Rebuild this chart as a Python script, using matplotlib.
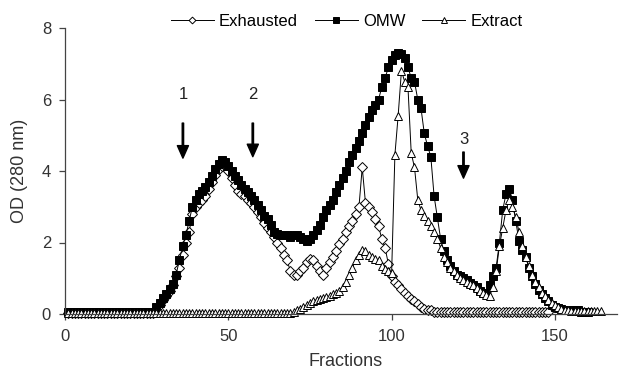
import matplotlib
matplotlib.use("Agg")
import matplotlib.pyplot as plt

plt.rcParams['font.family'] = ['Liberation Sans', 'DejaVu Sans']

# OD at 280 nm per fraction
exhausted = [
    0.02, 0.02, 0.02, 0.02, 0.02, 0.02, 0.02, 0.02, 0.02, 0.02,
    0.02, 0.02, 0.02, 0.02, 0.02, 0.02, 0.02, 0.02, 0.02, 0.02,
    0.02, 0.02, 0.02, 0.02, 0.02, 0.02, 0.02, 0.15, 0.25, 0.40,
    0.50, 0.65, 0.80, 1.05, 1.30, 1.65, 2.00, 2.30, 2.80, 3.00,
    3.10, 3.20, 3.30, 3.50, 3.70, 3.90, 4.05, 4.15, 4.15, 4.00,
    3.80, 3.60, 3.45, 3.35, 3.30, 3.20, 3.10, 3.00, 2.85, 2.70,
    2.55, 2.40, 2.30, 2.15, 2.00, 1.85, 1.65, 1.50, 1.20, 1.10,
    1.10, 1.20, 1.30, 1.45, 1.55, 1.50, 1.35, 1.20, 1.10, 1.30,
    1.45, 1.60, 1.75, 1.95, 2.10, 2.30, 2.45, 2.60, 2.80, 3.00,
    4.10, 3.10, 3.00, 2.85, 2.65, 2.45, 2.10, 1.85, 1.40, 1.05,
    0.90, 0.80, 0.70, 0.60, 0.50, 0.42, 0.35, 0.28, 0.20, 0.15,
    0.12, 0.10, 0.05, 0.05, 0.05, 0.05, 0.05, 0.05, 0.05, 0.05,
    0.05, 0.05, 0.05, 0.05, 0.05, 0.05, 0.05, 0.05, 0.05, 0.05,
    0.05, 0.05, 0.05, 0.05, 0.05, 0.05, 0.05, 0.05, 0.05, 0.05,
    0.05, 0.05, 0.05, 0.05, 0.05, 0.05, 0.05, 0.05,
]

omw = [
    0.05, 0.05, 0.05, 0.05, 0.05, 0.05, 0.05, 0.05, 0.05, 0.05,
    0.05, 0.05, 0.05, 0.05, 0.05, 0.05, 0.05, 0.05, 0.05, 0.05,
    0.05, 0.05, 0.05, 0.05, 0.05, 0.05, 0.05, 0.20, 0.30, 0.45,
    0.55, 0.70, 0.85, 1.10, 1.50, 1.90, 2.20, 2.60, 3.00, 3.20,
    3.35, 3.45, 3.55, 3.70, 3.85, 4.05, 4.20, 4.30, 4.25, 4.15,
    4.00, 3.85, 3.75, 3.60, 3.50, 3.40, 3.30, 3.20, 3.05, 2.90,
    2.75, 2.65, 2.50, 2.30, 2.25, 2.20, 2.20, 2.20, 2.15, 2.20,
    2.20, 2.15, 2.10, 2.05, 2.10, 2.20, 2.35, 2.50, 2.70, 2.90,
    3.05, 3.20, 3.40, 3.60, 3.80, 4.00, 4.25, 4.45, 4.65, 4.85,
    5.05, 5.30, 5.50, 5.70, 5.85, 6.00, 6.35, 6.60, 6.90, 7.10,
    7.25, 7.30, 7.28, 7.15, 6.90, 6.60, 6.50, 6.00, 5.75, 5.05,
    4.70, 4.40, 3.30, 2.70, 2.10, 1.75, 1.50, 1.35, 1.20, 1.10,
    1.05, 1.00, 0.95, 0.88, 0.82, 0.75, 0.65, 0.58, 0.60, 0.80,
    1.05, 1.30, 2.00, 2.90, 3.35, 3.50, 3.20, 2.60, 2.05, 1.80,
    1.60, 1.30, 1.05, 0.85, 0.67, 0.55, 0.45, 0.35, 0.25, 0.20,
    0.17, 0.15, 0.12, 0.10, 0.10, 0.10, 0.10, 0.05, 0.05, 0.05,
]

extract = [
    0.02, 0.02, 0.02, 0.02, 0.02, 0.02, 0.02, 0.02, 0.02, 0.02,
    0.02, 0.02, 0.02, 0.02, 0.02, 0.02, 0.02, 0.02, 0.02, 0.02,
    0.02, 0.02, 0.02, 0.02, 0.02, 0.02, 0.02, 0.02, 0.02, 0.02,
    0.02, 0.02, 0.02, 0.02, 0.02, 0.02, 0.02, 0.02, 0.02, 0.02,
    0.02, 0.02, 0.02, 0.02, 0.02, 0.02, 0.02, 0.02, 0.02, 0.02,
    0.02, 0.02, 0.02, 0.02, 0.02, 0.02, 0.02, 0.02, 0.02, 0.02,
    0.02, 0.02, 0.02, 0.02, 0.02, 0.02, 0.02, 0.02, 0.02, 0.05,
    0.10, 0.15, 0.20, 0.25, 0.30, 0.35, 0.40, 0.42, 0.45, 0.48,
    0.50, 0.55, 0.58, 0.65, 0.75, 0.90, 1.10, 1.30, 1.50, 1.65,
    1.80, 1.75, 1.65, 1.60, 1.55, 1.50, 1.35, 1.25, 1.20, 1.15,
    4.45, 5.55, 6.80, 6.50, 6.35, 4.50, 4.10, 3.20, 2.90, 2.75,
    2.60, 2.45, 2.30, 2.10, 1.85, 1.60, 1.45, 1.30, 1.20, 1.10,
    1.00, 0.95, 0.90, 0.85, 0.80, 0.72, 0.65, 0.58, 0.52, 0.50,
    0.75, 1.20, 1.90, 2.40, 2.90, 3.20, 3.00, 2.70, 2.30, 1.90,
    1.60, 1.35, 1.10, 0.90, 0.75, 0.60, 0.50, 0.40, 0.30, 0.25,
    0.20, 0.15, 0.12, 0.10, 0.08, 0.08, 0.08, 0.08, 0.08, 0.08,
    0.08, 0.08, 0.08, 0.08,
]

# Peak markers: label, fraction, arrow top, arrow tip, label height
peak_labels = ["1", "2", "3"]
peak_x = [36.1, 57.5, 122.0]
arrow_top = [5.34, 5.34, 4.53]
arrow_tip = [4.36, 4.40, 3.80]
label_y = [6.15, 6.15, 4.87]

fig = plt.figure(figsize=(6.19, 3.71), dpi=100)
ax = fig.add_axes([65 / 619, 57 / 371, 552 / 619, 286 / 371])

ax.plot(range(1, len(exhausted) + 1), exhausted, color="black", lw=0.7,
        marker="D", ms=4.6, mfc="white", mec="black", mew=0.7,
        label="Exhausted", clip_on=False)
ax.plot(range(1, len(omw) + 1), omw, color="black", lw=0.7,
        marker="s", ms=5.5, mfc="black", mec="black", mew=0.7,
        label="OMW", clip_on=False)
ax.plot(range(1, len(extract) + 1), extract, color="black", lw=0.7,
        marker="^", ms=6, mfc="white", mec="black", mew=0.7,
        label="Extract", clip_on=False)

for lab, x, top, tip, ly in zip(peak_labels, peak_x, arrow_top, arrow_tip, label_y):
    ax.annotate("", xy=(x, tip), xytext=(x, top),
                arrowprops=dict(facecolor="black", edgecolor="black",
                                width=1.0, headwidth=8, headlength=9))
    ax.text(x, ly, lab, ha="center", va="center", fontsize=12, color="#222222")

ax.set_xlim(0, 169)
ax.set_ylim(0, 8)
ax.set_xticks([0, 50, 100, 150])
ax.set_yticks([0, 2, 4, 6, 8])

for side in ("top", "right"):
    ax.spines[side].set_visible(False)
for side in ("left", "bottom"):
    ax.spines[side].set_color("#444444")
    ax.spines[side].set_linewidth(0.9)

ax.tick_params(axis="both", direction="out", length=4, width=0.9,
               color="#444444", labelsize=12, labelcolor="#333333")
ax.tick_params(axis="x", pad=7)
ax.tick_params(axis="y", pad=6)

ax.set_xlabel("Fractions", fontsize=13, color="#333333", va="center")
ax.xaxis.set_label_coords((346 - 65) / 552, -(361 - 314) / 286)
ax.set_ylabel("OD (280 nm)", fontsize=13, color="#333333", va="center")
ax.yaxis.set_label_coords(-(65 - 20) / 552, 0.5)

ax.legend(loc="center", bbox_to_anchor=(0.51, 1.022), ncol=3, frameon=False,
          fontsize=12, handlelength=2.6, handletextpad=0.3, columnspacing=1.0,
          numpoints=1, markerscale=0.75, borderaxespad=0)

fig.savefig("out.png", dpi=100)
